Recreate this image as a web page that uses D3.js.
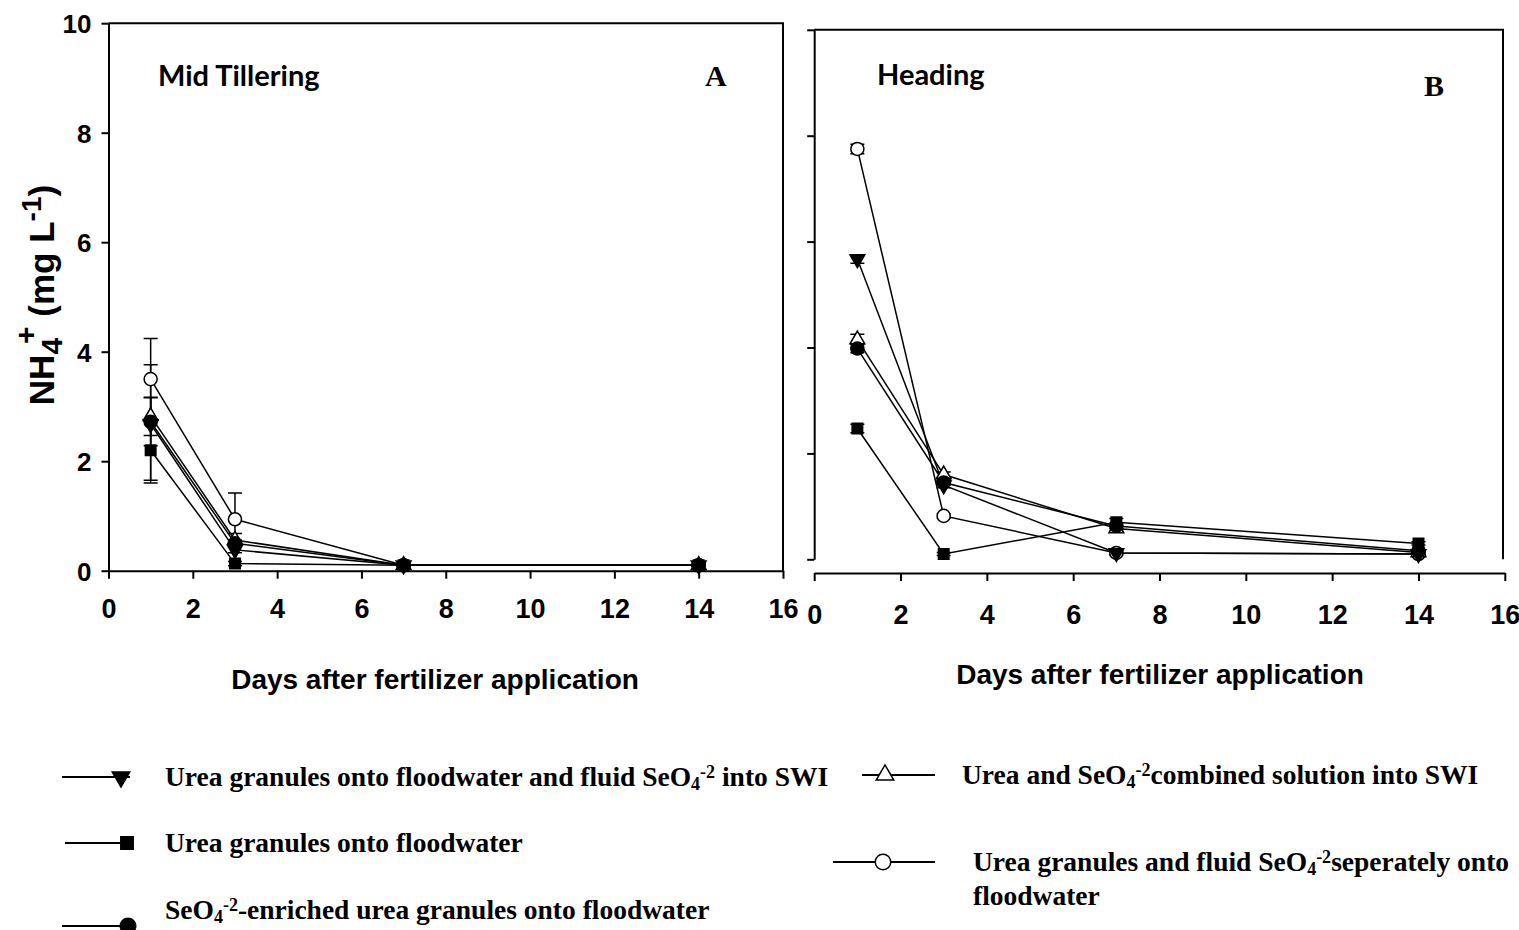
<!DOCTYPE html>
<html>
<head>
<meta charset="utf-8">
<script src="https://cdn.jsdelivr.net/npm/d3@7"></script>
<style>
body { margin: 0; background: #fff; }
svg { display: block; }
</style>
</head>
<body>
<svg id="chart" width="1519" height="930"></svg>
<script>
// sampling days and axis ticks
var days = [1, 3, 7, 14];
var xTicks = [0, 2, 4, 6, 8, 10, 12, 14, 16];
var yTicks = [0, 2, 4, 6, 8, 10];

// Panel A - mid tillering (mean, standard error)
var tillerDown = [2.68, 0.38, 0.1, 0.1];
var tillerDownErr = [1.08, 0.05, 0.02, 0.02];
var tillerSquare = [2.2, 0.13, 0.1, 0.1];
var tillerSquareErr = [0.55, 0.04, 0.02, 0.02];
var tillerDot = [2.72, 0.5, 0.1, 0.1];
var tillerDotErr = [0.44, 0.06, 0.02, 0.02];
var tillerUp = [2.82, 0.56, 0.1, 0.1];
var tillerUpErr = [0.35, 0.12, 0.02, 0.02];
var tillerRing = [3.5, 0.94, 0.1, 0.1];
var tillerRingErr = [0.74, 0.48, 0.02, 0.02];

// Panel B - heading (mean, standard error)
var headDown = [5.67, 1.4, 0.12, 0.1];
var headDownErr = [0.08, 0.05, 0.04, 0.02];
var headSquare = [2.47, 0.1, 0.7, 0.3];
var headSquareErr = [0.08, 0.03, 0.07, 0.03];
var headDot = [3.98, 1.45, 0.63, 0.16];
var headDotErr = [0.08, 0.05, 0.05, 0.02];
var headUp = [4.15, 1.6, 0.58, 0.13];
var headUpErr = [0.1, 0.05, 0.05, 0.02];
var headRing = [7.75, 0.82, 0.12, 0.1];
var headRingErr = [0.09, 0.04, 0.03, 0.02];

var svg = d3.select("#chart");

// marker shapes
var markers = {
  square: { type: d3.symbolSquare, size: 110, fill: "#000", rotate: 0 },
  dot:    { type: d3.symbolCircle, size: 135, fill: "#000", rotate: 0 },
  down:   { type: d3.symbolTriangle, size: 95, fill: "#000", rotate: 180 },
  up:     { type: d3.symbolTriangle, size: 95, fill: "#fff", rotate: 0 },
  ring:   { type: d3.symbolCircle, size: 135, fill: "#fff", rotate: 0 }
};

function drawMarker(g, kind, cx, cy, scale) {
  var m = markers[kind];
  g.append("path")
    .attr("d", d3.symbol().type(m.type).size(m.size * (scale || 1))())
    .attr("transform", "translate(" + cx + "," + cy + ") rotate(" + m.rotate + ")")
    .attr("fill", m.fill)
    .attr("stroke", "#000")
    .attr("stroke-width", 1.5);
}

function drawPanel(p) {
  var g = svg.append("g");
  var x = d3.scaleLinear().domain([0, 16]).range(p.xRange);
  var y = d3.scaleLinear().domain([0, 10]).range(p.yRange);

  // y axis
  var yAxis = g.append("g")
    .attr("transform", "translate(" + p.xRange[0] + ",0)")
    .call(d3.axisLeft(y).tickValues(yTicks).tickSize(7).tickSizeOuter(0).tickPadding(10)
      .tickFormat(p.yLabels ? d3.format("d") : function() { return ""; }));
  // x axis
  var xAxis = g.append("g")
    .attr("transform", "translate(0," + p.xAxisY + ")")
    .call(d3.axisBottom(x).tickValues(xTicks).tickSize(8).tickSizeOuter(0).tickPadding(p.xPad)
      .tickFormat(d3.format("d")));
  [yAxis, xAxis].forEach(function(a) {
    a.selectAll("path, line").attr("stroke", "#000").attr("stroke-width", 2);
    a.selectAll("text")
      .attr("fill", "#000")
      .style("font-family", "'Liberation Sans', Arial, sans-serif")
      .style("font-weight", "bold");
  });
  yAxis.selectAll("text").style("font-size", "26px").attr("dy", "0.36em");
  xAxis.selectAll("text").style("font-size", "27px");

  // frame: top and right
  g.append("path")
    .attr("d", "M" + p.xRange[0] + "," + y(10) + "H" + p.frameRight + "V" + y(0))
    .attr("fill", "none").attr("stroke", "#000").attr("stroke-width", 2);

  // series lines and error bars
  p.series.forEach(function(s) {
    var pts = days.map(function(d, i) { return { x: d, v: s.values[i], e: s.errors[i] }; });
    g.append("path")
      .datum(pts)
      .attr("d", d3.line().x(function(d) { return x(d.x); }).y(function(d) { return y(d.v); }))
      .attr("fill", "none").attr("stroke", "#000").attr("stroke-width", 1.5);
    pts.forEach(function(d) {
      var top = y(d.v + d.e), bot = y(Math.max(0, d.v - d.e));
      g.append("path")
        .attr("d", "M" + x(d.x) + "," + top + "V" + bot +
          "M" + (x(d.x) - 7) + "," + top + "h14" +
          "M" + (x(d.x) - 7) + "," + bot + "h14")
        .attr("fill", "none").attr("stroke", "#000").attr("stroke-width", 1.5);
    });
  });
  // markers on top
  p.series.forEach(function(s) {
    days.forEach(function(d, i) { drawMarker(g, s.kind, x(d), y(s.values[i])); });
  });

  // stage title and panel letter
  g.append("text")
    .attr("x", p.title[1]).attr("y", p.title[2])
    .style("font-family", "Lato, 'Open Sans', sans-serif").style("font-weight", "bold")
    .style("font-size", "29px")
    .text(p.title[0]);
  g.append("text")
    .attr("x", p.letter[1]).attr("y", p.letter[2])
    .style("font-family", "'Liberation Serif', 'Times New Roman', serif").style("font-weight", "bold")
    .style("font-size", "30px")
    .text(p.letter[0]);

  // x title
  g.append("text")
    .attr("x", p.xTitle[0]).attr("y", p.xTitle[1])
    .attr("text-anchor", "middle")
    .style("font-family", "'Liberation Sans', Arial, sans-serif").style("font-weight", "bold")
    .style("font-size", "28px")
    .text("Days after fertilizer application");
}

// drawing order: ring, up, square, dot, down
function seriesSet(down, downE, sq, sqE, dot, dotE, up, upE, ring, ringE) {
  return [
    { kind: "ring", values: ring, errors: ringE },
    { kind: "up", values: up, errors: upE },
    { kind: "square", values: sq, errors: sqE },
    { kind: "dot", values: dot, errors: dotE },
    { kind: "down", values: down, errors: downE }
  ];
}

drawPanel({
  xRange: [108.5, 783], yRange: [570.7, 23.2], xAxisY: 570.7, frameRight: 783,
  xPad: 20, yLabels: true,
  title: ["Mid Tillering", 158, 86], letter: ["A", 705, 86], xTitle: [435, 689],
  series: seriesSet(tillerDown, tillerDownErr, tillerSquare, tillerSquareErr, tillerDot, tillerDotErr,
    tillerUp, tillerUpErr, tillerRing, tillerRingErr)
});

drawPanel({
  xRange: [814.2, 1504.8], yRange: [559.3, 29.8], xAxisY: 573, frameRight: 1503,
  xPad: 24, yLabels: false,
  title: ["Heading", 877, 85], letter: ["B", 1424, 96], xTitle: [1160, 684],
  series: seriesSet(headDown, headDownErr, headSquare, headSquareErr, headDot, headDotErr,
    headUp, headUpErr, headRing, headRingErr)
});

// y axis title
var yTitle = svg.append("text")
  .attr("transform", "translate(54,295) rotate(-90)")
  .attr("text-anchor", "middle")
  .style("font-family", "'Liberation Sans', Arial, sans-serif").style("font-weight", "bold")
  .style("font-size", "35px");
yTitle.append("tspan").text("NH");
yTitle.append("tspan").attr("baseline-shift", "-25%").style("font-size", "30px").text("4");
yTitle.append("tspan").attr("baseline-shift", "60%").attr("dx", -6).style("font-size", "30px").text("+");
yTitle.append("tspan").text(" (mg L");
yTitle.append("tspan").attr("baseline-shift", "45%").style("font-size", "28px").text("-1");
yTitle.append("tspan").text(")");

// legend
var legendItems = [
  { kind: "down", x1: 62, x2: 130, mx: 121, y: 777, tx: 165,
    parts: [["Urea granules onto floodwater and fluid SeO"], ["4", "sub"], ["-2", "super"], [" into SWI"]] },
  { kind: "square", x1: 65, x2: 130, mx: 127, y: 843, tx: 165,
    parts: [["Urea granules onto floodwater"]] },
  { kind: "dot", x1: 62, x2: 128, mx: 128, y: 926, tx: 165, ty: 910,
    parts: [["SeO"], ["4", "sub"], ["-2", "super"], ["-enriched urea granules onto floodwater"]] },
  { kind: "up", x1: 862, x2: 935, mx: 885, y: 775, tx: 962,
    parts: [["Urea and SeO"], ["4", "sub"], ["-2", "super"], ["combined solution into SWI"]] },
  { kind: "ring", x1: 833, x2: 935, mx: 883, y: 862, tx: 973,
    parts: [["Urea granules and fluid SeO"], ["4", "sub"], ["-2", "super"], ["seperately onto"]] }
];

var legend = svg.append("g");
legendItems.forEach(function(it) {
  legend.append("line")
    .attr("x1", it.x1).attr("x2", it.x2).attr("y1", it.y).attr("y2", it.y)
    .attr("stroke", "#000").attr("stroke-width", 2);
  drawMarker(legend, it.kind, it.mx, it.y, 1.4);
  var t = legend.append("text")
    .attr("x", it.tx).attr("y", (it.ty || it.y) + 9)
    .style("font-family", "'Liberation Serif', 'Times New Roman', serif").style("font-weight", "bold")
    .style("font-size", "27.5px");
  it.parts.forEach(function(pt) {
    var ts = t.append("tspan").text(pt[0]);
    if (pt[1] === "sub") ts.attr("baseline-shift", "-20%").style("font-size", "18px");
    if (pt[1] === "super") ts.attr("baseline-shift", "45%").style("font-size", "18px");
  });
});
legend.append("text")
  .attr("x", 973).attr("y", 905)
  .style("font-family", "'Liberation Serif', 'Times New Roman', serif").style("font-weight", "bold")
  .style("font-size", "27.5px")
  .text("floodwater");
</script>
</body>
</html>
